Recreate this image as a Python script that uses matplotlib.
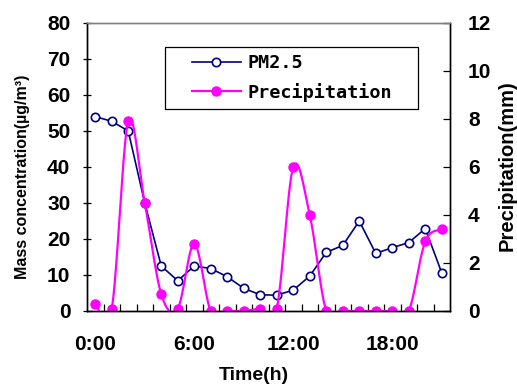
import numpy as np
import matplotlib
matplotlib.use('Agg')
import matplotlib.pyplot as plt
from matplotlib.patches import Rectangle

# Data
hours = list(range(22))
pm25 = [54, 52.7, 50, 30, 12.5, 8.4, 12.5, 11.8, 9.5, 6.3, 4.5,
        4.4, 5.8, 9.7, 16.3, 18.2, 25, 16, 17.6, 19, 22.9, 10.6]
precip = [0.3, 0.1, 7.9, 4.5, 0.7, 0.1, 2.8, 0, 0, 0, 0.1,
          0.1, 6.0, 4.0, 0, 0, 0, 0, 0, 0, 2.9, 3.4]
xtick_pos = [0, 6, 12, 18]
xtick_labels = ['0:00', '6:00', '12:00', '18:00']

W, H = 517, 390
FONT = 'Liberation Sans'


#Excel style smoothed line (bezier through the points)
def smooth(x, y, k=20):
    x = np.asarray(x, float)
    y = np.asarray(y, float)
    n = len(x)
    xs, ys = [], []
    t = np.linspace(0, 1, k, endpoint=False)
    for i in range(n - 1):
        a = i - 1 if i > 0 else i
        b = i + 2 if i + 2 < n else i + 1
        cx1 = x[i] + (x[i + 1] - x[a]) / 6
        cx2 = x[i + 1] - (x[b] - x[i]) / 6
        cy1 = y[i] + (y[i + 1] - y[a]) / 6
        cy2 = y[i + 1] - (y[b] - y[i]) / 6
        xs.append((1-t)**3*x[i] + 3*(1-t)**2*t*cx1 + 3*(1-t)*t**2*cx2 + t**3*x[i+1])
        ys.append((1-t)**3*y[i] + 3*(1-t)**2*t*cy1 + 3*(1-t)*t**2*cy2 + t**3*y[i+1])
    xs.append([x[-1]])
    ys.append([y[-1]])
    return np.concatenate(xs), np.concatenate(ys), [i * k for i in range(n)]


fig = plt.figure(figsize=(W / 100, H / 100), dpi=100)
ax = fig.add_axes([87 / W, 1 - 311 / H, (450 - 87) / W, (311 - 23) / H])
ax2 = ax.twinx()

l1, = ax.plot(hours, pm25, color='#000080', lw=1.2, marker='o', ms=6,
              mfc='white', mec='#000080', mew=1.2, label='PM2.5')

sx, sy, idx = smooth(hours, precip)
l2, = ax2.plot(sx, sy, color='#FF00FF', lw=1.6, marker='o', ms=6.5,
               markevery=idx, mfc='#FF00FF', mec='#FF00FF', label='Precipitation')

ax.set_xlim(-0.5, 21.5)
ax.set_ylim(0, 80)
ax2.set_ylim(0, 12)
ax.set_yticks(range(0, 81, 10))
ax2.set_yticks(range(0, 13, 2))

ax.set_xticks(xtick_pos)
ax.set_xticklabels(xtick_labels)
ax.set_xticks(np.arange(0.5, 21, 1), minor=True)
ax.tick_params(axis='x', which='major', length=0, pad=17)
ax.tick_params(axis='x', which='minor', direction='in', length=5, width=0.9)
ax.tick_params(axis='y', direction='inout', length=6, width=0.9, pad=9)
ax2.tick_params(axis='y', direction='in', length=5, width=0.9, pad=13)

for lab in ax.get_xticklabels() + ax.get_yticklabels() + ax2.get_yticklabels():
    lab.set_fontfamily(FONT)
    lab.set_fontweight('bold')
    lab.set_fontsize(15)

for a in (ax, ax2):
    for s in a.spines.values():
        s.set_linewidth(1.0)
        s.set_color('black')
    a.spines['top'].set_color('#808080')

fig.text(15 / W, 1 - 177 / H, 'Mass concentration(µg/m³)', rotation=90,
         ha='left', va='center', fontsize=11.5, fontweight='bold', family=FONT)
fig.text(498 / W, 1 - 166 / H, 'Precipitation(mm)', rotation=90,
         ha='left', va='center', fontsize=14.5, fontweight='bold', family=FONT)
fig.text(254 / W, 1 - 376 / H, 'Time(h)', ha='center', va='center',
         fontsize=14, fontweight='bold', family=FONT)

leg = ax2.legend(handles=[l1, l2], loc='center', frameon=False,
                 bbox_to_anchor=(292 / W, 1 - 78 / H),
                 bbox_transform=fig.transFigure, borderpad=0,
                 handlelength=2.7, handletextpad=0.35, labelspacing=0.55,
                 prop={'family': 'DejaVu Sans Mono', 'size': 13.3,
                       'weight': 'bold'})
fig.add_artist(Rectangle((165 / W, 1 - 109 / H), (418 - 165) / W, (109 - 47) / H,
                         transform=fig.transFigure, fill=False,
                         edgecolor='black', lw=0.9))

fig.savefig('out.png', dpi=100)
